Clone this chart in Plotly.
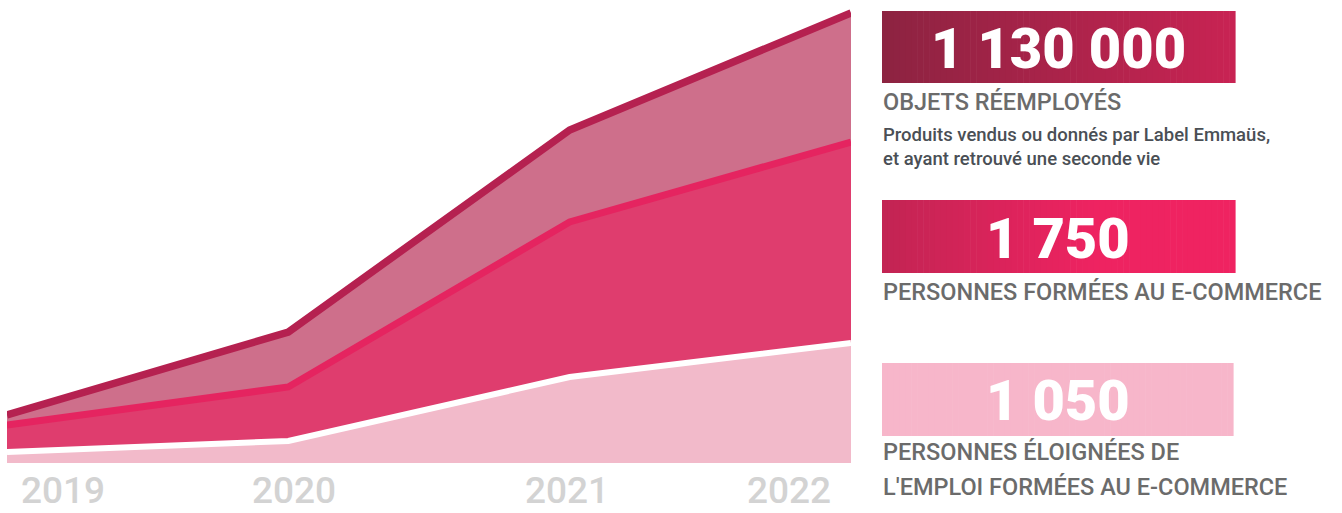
import plotly.graph_objects as go

# chart data (arbitrary units)
years = [2019, 2020, 2021, 2022]
objets = [48, 131, 333, 450]
formees = [38, 76, 241, 321]
eloignees = [11, 22, 86, 120]

year_labels = ["2019", "2020", "2021", "2022"]
label_x = [2019.2, 2020.02, 2020.99, 2021.78]

kpi_values = ["1 130 000", "1 750", "1 050"]
kpi_titles = ["OBJETS RÉEMPLOYÉS", "PERSONNES FORMÉES AU E-COMMERCE",
              "PERSONNES ÉLOIGNÉES DE", "L'EMPLOI FORMÉES AU E-COMMERCE"]
kpi_note = "Produits vendus ou donnés par Label Emmaüs,<br>et ayant retrouvé une seconde vie"

W, H = 1342, 513
FONT = "Roboto"


def px(x):
    return x / W


def py(y):
    return 1 - y / H


fig = go.Figure()

fig.add_trace(go.Scatter(
    x=years, y=eloignees, mode="lines", fill="tozeroy",
    fillcolor="#F2BACA", line=dict(color="white", width=6),
    hoverinfo="skip"))
fig.add_trace(go.Scatter(
    x=years, y=formees, mode="lines", fill="tonexty",
    fillcolor="#DF3D6E", line=dict(color="#E52460", width=7),
    hoverinfo="skip"))
fig.add_trace(go.Scatter(
    x=years, y=objets, mode="lines", fill="tonexty",
    fillcolor="#CE6F8B", line=dict(color="#B52150", width=7.5),
    hoverinfo="skip"))


def hex2rgb(h):
    h = h.lstrip("#")
    return [int(h[i:i + 2], 16) for i in (0, 2, 4)]


def gradient_box(x0, x1, y0, y1, stops, n=60):
    # stops: list of (pos, hex)
    shapes = []
    step = (x1 - x0) / n
    for i in range(n):
        t = (i + 0.5) / n
        for k in range(len(stops) - 1):
            if stops[k][0] <= t <= stops[k + 1][0]:
                a, b = stops[k], stops[k + 1]
                break
        f = (t - a[0]) / (b[0] - a[0]) if b[0] > a[0] else 0
        ca, cb = hex2rgb(a[1]), hex2rgb(b[1])
        c = [round(ca[j] + (cb[j] - ca[j]) * f) for j in range(3)]
        shapes.append(dict(
            type="rect", xref="paper", yref="paper",
            x0=px(x0 + i * step), x1=px(x0 + (i + 1) * step + 0.6),
            y0=py(y1), y1=py(y0),
            fillcolor=f"rgb({c[0]},{c[1]},{c[2]})", line=dict(width=0),
            layer="below"))
    return shapes


shapes = []
shapes += gradient_box(882, 1235, 11, 83, [(0, "#8C2341"), (1, "#C92353")])
shapes += gradient_box(882, 1235, 200, 273, [(0, "#C22453"), (0.6, "#EE2361"), (1, "#EF2361")])
shapes += gradient_box(882, 1233, 363, 436, [(0, "#F7B6CA"), (1, "#F7B6CA")])

annotations = []
for lbl, xv in zip(year_labels, label_x):
    annotations.append(dict(
        x=xv, y=py(490), xref="x", yref="paper", text=lbl, showarrow=False,
        xanchor="center", yanchor="middle",
        font=dict(family=FONT, size=37, color="#D3D3D3", weight=500)))

for val, yc in zip(kpi_values, [49, 239, 401]):
    annotations.append(dict(
        x=px(1058), y=py(yc), xref="paper", yref="paper", text=val,
        showarrow=False, xanchor="center", yanchor="middle",
        font=dict(family=FONT, size=56, color="white", weight=900)))

for t, yc in zip(kpi_titles, [102, 292, 452, 487]):
    annotations.append(dict(
        x=px(881), y=py(yc), xref="paper", yref="paper", text=t,
        showarrow=False, xanchor="left", yanchor="middle",
        font=dict(family=FONT, size=23.5, color="#6B6B6B", weight=500)))

annotations.append(dict(
    x=px(881), y=py(147), xref="paper", yref="paper", text=kpi_note,
    showarrow=False, xanchor="left", yanchor="middle", align="left",
    font=dict(family=FONT, size=18.5, color="#4A4F55", weight=500)))

fig.update_layout(
    width=W, height=H,
    margin=dict(l=0, r=0, t=0, b=0, pad=0),
    paper_bgcolor="white", plot_bgcolor="white",
    showlegend=False,
    xaxis=dict(domain=[px(7), px(851)], range=[2019, 2022],
               visible=False, fixedrange=True),
    yaxis=dict(domain=[50 / H, 1], range=[0, 463],
               visible=False, fixedrange=True),
    shapes=shapes,
    annotations=annotations,
)

# drop the default page margin so the figure fills the window exactly
fig.write_html("out.html", config={"displayModeBar": False},
               post_script="document.body.style.margin='0';")
